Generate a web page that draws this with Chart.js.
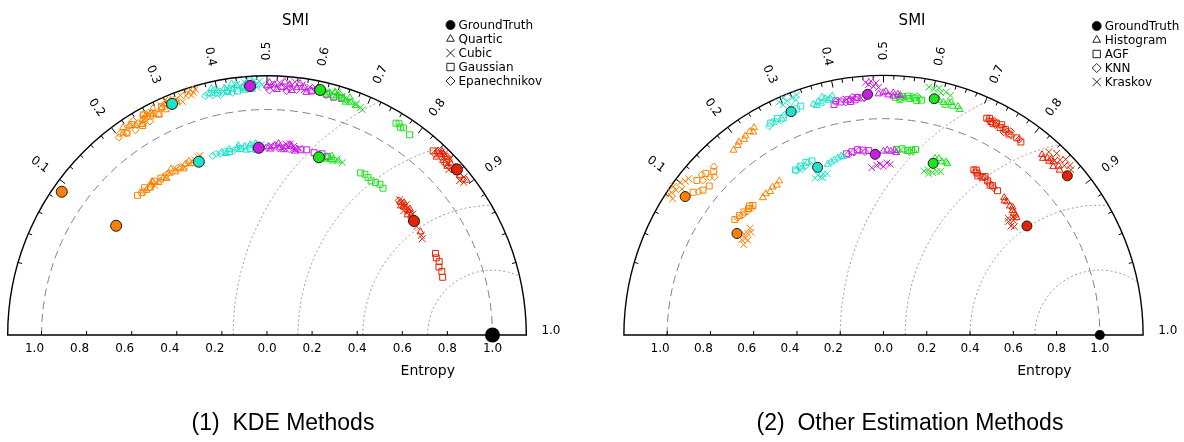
<!DOCTYPE html>
<html>
<head>
<meta charset="utf-8">
<script src="https://cdn.jsdelivr.net/npm/chart.js@4.4.0/dist/chart.umd.min.js"></script>
<style>
  body { margin: 0; background: #fff; width: 1184px; height: 442px; overflow: hidden; position: relative; }
  canvas { position: absolute; top: 0; }
  #kde { left: 0; }
  #other { left: 592px; }
  .cap { position: absolute; top: 409px; width: 440px; text-align: center; font: 23px "Liberation Sans", Arial, sans-serif; color: #000; white-space: pre; }
</style>
</head>
<body>
<canvas id="kde" width="592" height="442"></canvas>
<canvas id="other" width="592" height="442"></canvas>
<div class="cap" style="left:63px">(1)  KDE Methods</div>
<div class="cap" style="left:690px">(2)  Other Estimation Methods</div>
<script>
// each point: [entropy ratio (radius), SMI, group]
const groupColors = ['#ff8000', '#1ee3c9', '#c81ee3', '#1ee31e', '#e62200'];
const referencePoint = [[1.0, 1.0]];
const radialTicks = [-1.0, -0.8, -0.6, -0.4, -0.2, 0.0, 0.2, 0.4, 0.6, 0.8, 1.0];
const smiTicks = [0.1, 0.2, 0.3, 0.4, 0.5, 0.6, 0.7, 0.8, 0.9, 1.0];

const kdeGroundTruth = [
  [1.11,.09,0],[.826,.095,0],[1.108,.31,1],[.826,.317,1],[1.107,.466,2],
  [.831,.478,2],[1.112,.606,3],[.821,.64,3],[1.117,.877,4],[.825,.895,4]
];
const kdeQuartic = [
  [1.10,.21,0],[1.11,.225,0],[1.095,.235,0],[1.105,.25,0],[1.115,.26,0],[1.10,.27,0],[1.09,.28,0],[1.11,.29,0],[1.12,.30,0],[1.10,.31,0],[1.11,.32,0],
  [1.12,.215,0],[1.085,.245,0],[1.125,.275,0],[1.095,.295,0],[1.125,.31,0],
  [.835,.18,0],[.84,.195,0],[.83,.21,0],[.835,.225,0],[.84,.24,0],[.83,.255,0],[.835,.27,0],[.84,.285,0],[.83,.30,0],
  [.85,.20,0],[.825,.23,0],[.85,.25,0],[.825,.275,0],[.845,.295,0],
  [1.10,.385,1],[1.105,.40,1],[1.11,.415,1],[1.10,.43,1],[1.115,.44,1],[1.105,.45,1],[1.12,.46,1],[1.11,.47,1],[1.10,.465,1],
  [1.12,.39,1],[1.09,.42,1],[1.125,.43,1],[1.09,.455,1],[1.125,.47,1],
  [.835,.38,1],[.84,.40,1],[.835,.42,1],[.84,.44,1],[.845,.455,1],[.835,.47,1],[.84,.48,1],
  [.825,.39,1],[.85,.425,1],[.825,.445,1],[.85,.47,1],
  [1.105,.50,2],[1.11,.515,2],[1.10,.53,2],[1.115,.545,2],[1.105,.56,2],[1.11,.575,2],[1.10,.59,2],
  [1.12,.505,2],[1.09,.52,2],[1.125,.535,2],[1.09,.55,2],[1.125,.565,2],[1.09,.58,2],
  [.835,.505,2],[.84,.52,2],[.835,.535,2],[.84,.55,2],[.845,.565,2],[.835,.58,2],
  [.825,.51,2],[.85,.53,2],[.825,.545,2],[.85,.56,2],[.825,.575,2],
  [1.11,.625,3],[1.105,.64,3],[1.10,.655,3],[1.095,.67,3],[1.09,.68,3],[1.12,.635,3],[1.09,.66,3],[1.115,.665,3],
  [.83,.645,3],[.835,.66,3],[.83,.675,3],[.835,.69,3],[.82,.655,3],[.845,.67,3],
  [1.11,.84,4],[1.12,.85,4],[1.10,.855,4],[1.115,.865,4],[1.105,.875,4],[1.11,.885,4],
  [1.125,.845,4],[1.09,.845,4],[1.125,.875,4],[1.095,.865,4],[1.12,.895,4],
  [.835,.855,4],[.83,.865,4],[.835,.875,4],[.83,.885,4],[.825,.895,4],[.82,.915,4],
  [.845,.86,4],[.825,.86,4],[.845,.875,4],[.82,.88,4]
];
const kdeCubic = [
  [1.10,.25,0],[1.11,.27,0],[1.12,.29,0],[1.11,.31,0],[1.12,.32,0],[1.13,.33,0],[1.12,.34,0],[1.13,.345,0],[1.115,.35,0],[1.125,.355,0],[1.10,.33,0],
  [1.135,.30,0],[1.105,.32,0],[1.14,.35,0],[1.135,.36,0],
  [.83,.20,0],[.835,.23,0],[.84,.26,0],[.83,.28,0],[.835,.295,0],[.84,.31,0],[.845,.32,0],[.85,.325,0],
  [1.11,.42,1],[1.12,.44,1],[1.125,.455,1],[1.12,.47,1],[1.115,.48,1],[1.125,.485,1],[1.11,.49,1],[1.13,.475,1],
  [1.10,.45,1],[1.135,.46,1],[1.10,.48,1],
  [.84,.43,1],[.845,.45,1],[.85,.465,1],[.84,.475,1],[.845,.485,1],[.835,.49,1],
  [1.11,.505,2],[1.12,.525,2],[1.115,.55,2],[1.12,.57,2],[1.115,.585,2],[1.12,.595,2],
  [1.10,.54,2],[1.13,.555,2],[1.10,.575,2],
  [.84,.51,2],[.845,.53,2],[.85,.55,2],[.845,.57,2],[.84,.585,2],[.83,.54,2],[.855,.56,2],[.83,.575,2],
  [1.115,.63,3],[1.11,.65,3],[1.10,.665,3],[1.095,.68,3],[1.09,.69,3],[1.085,.695,3],[1.12,.64,3],[1.10,.68,3],
  [.83,.65,3],[.835,.67,3],[.84,.685,3],[.835,.70,3],
  [1.12,.845,4],[1.125,.86,4],[1.11,.87,4],[1.115,.88,4],[1.10,.89,4],[1.105,.895,4],[1.095,.89,4],
  [1.13,.85,4],[1.09,.87,4],[1.13,.875,4],[1.12,.89,4],
  [.84,.85,4],[.835,.86,4],[.83,.875,4],[.825,.89,4],[.82,.905,4],[.815,.92,4],[.81,.925,4],
  [.845,.865,4],[.82,.87,4],[.84,.885,4]
];
const kdeGaussian = [
  [1.09,.215,0],[1.11,.23,0],[1.08,.245,0],[1.12,.255,0],[1.10,.265,0],[1.09,.28,0],[1.115,.29,0],[1.11,.305,0],
  [.845,.16,0],[.84,.17,0],[.85,.18,0],[.835,.19,0],[.845,.205,0],[.84,.22,0],
  [1.095,.40,1],[1.10,.42,1],[1.09,.44,1],[1.10,.455,1],[1.095,.47,1],
  [.83,.40,1],[.835,.43,1],[.83,.455,1],[.825,.47,1],
  [1.10,.59,2],[1.105,.605,2],[1.10,.62,2],[1.095,.635,2],[1.10,.65,2],
  [.835,.59,2],[.84,.605,2],[.835,.625,2],[.84,.645,2],[.835,.66,2],
  [1.105,.62,3],[1.10,.635,3],[1.105,.65,3],[1.10,.76,3],[1.105,.765,3],[1.095,.77,3],[1.10,.775,3],[1.09,.79,3],
  [.83,.75,3],[.835,.76,3],[.83,.77,3],[.825,.78,3],[.83,.79,3],[.835,.80,3],[.83,.81,3],
  [1.10,.835,4],[1.11,.845,4],[1.105,.86,4],
  [.83,.95,4],[.825,.955,4],[.83,.96,4],[.82,.965,4],[.825,.97,4],[.82,.975,4]
];
const kdeEpanechnikov = [
  [1.095,.20,0],[1.105,.205,0],[1.09,.215,0],[1.11,.225,0],[1.10,.24,0],[1.09,.25,0],[1.105,.26,0],[1.11,.27,0],
  [1.08,.23,0],[1.12,.235,0],[1.08,.26,0],[1.12,.255,0],
  [.84,.175,0],[.835,.19,0],[.845,.20,0],[.83,.215,0],[.84,.235,0],[.835,.25,0],[.84,.265,0],
  [1.095,.375,1],[1.10,.38,1],[1.09,.39,1],[1.10,.405,1],[1.095,.42,1],[1.105,.435,1],
  [1.085,.405,1],[1.11,.395,1],[1.085,.43,1],
  [.83,.355,1],[.835,.365,1],[.83,.375,1],[.835,.39,1],[.83,.41,1],
  [1.10,.50,2],[1.095,.515,2],[1.105,.53,2],[1.10,.545,2],[1.095,.56,2],
  [1.085,.505,2],[1.115,.52,2],[1.085,.54,2],
  [.83,.50,2],[.835,.515,2],[.83,.53,2],[.835,.545,2],[.83,.56,2],
  [1.11,.615,3],[1.10,.63,3],[1.105,.645,3],[1.10,.66,3],[1.095,.62,3],[1.115,.645,3],
  [.825,.645,3],[.83,.655,3],[.825,.67,3],[.83,.68,3],
  [1.115,.84,4],[1.105,.85,4],[1.12,.86,4],[1.10,.87,4],[1.11,.875,4],
  [1.095,.84,4],[1.125,.855,4],[1.095,.86,4],
  [.835,.85,4],[.84,.86,4],[.83,.87,4],[.835,.88,4]
];

const otherGroundTruth = [
  [1.118,.09,0],[.824,.089,0],[1.117,.309,1],[.833,.317,1],[1.115,.467,2],
  [.836,.477,2],[1.117,.605,3],[.826,.639,3],[1.124,.878,4],[.833,.898,4]
];
const otherHistogram = [
  [1.10,.185,0],[1.105,.195,0],[1.115,.20,0],[1.11,.21,0],[1.12,.215,0],[1.125,.225,0],[1.115,.23,0],[1.13,.235,0],
  [.845,.17,0],[.85,.18,0],[.845,.19,0],[.855,.20,0],[.85,.21,0],[.86,.22,0],
  [1.115,.355,1],[1.12,.365,1],[1.11,.37,1],[1.125,.38,1],[1.12,.39,1],[1.13,.395,1],[1.115,.385,1],[1.105,.36,1],[1.135,.375,1],
  [.83,.345,1],[.835,.355,1],[.84,.365,1],[.845,.375,1],[.85,.385,1],[.845,.39,1],
  [1.115,.49,2],[1.12,.50,2],[1.11,.51,2],[1.12,.52,2],[1.115,.53,2],[1.11,.535,2],[1.125,.505,2],[1.105,.52,2],
  [.85,.50,2],[.855,.51,2],[.85,.52,2],[.855,.53,2],[.845,.535,2],
  [1.115,.615,3],[1.11,.625,3],[1.115,.635,3],[1.105,.645,3],[1.11,.655,3],[1.10,.66,3],[1.12,.64,3],[1.10,.63,3],
  [.85,.64,3],[.855,.65,3],[.845,.66,3],[.85,.67,3],[.845,.675,3],
  [1.11,.83,4],[1.115,.84,4],[1.12,.85,4],[1.11,.845,4],[1.125,.86,4],[1.115,.865,4],[1.10,.835,4],[1.125,.845,4],[1.105,.855,4],
  [.845,.83,4],[.84,.84,4],[.835,.85,4],[.83,.86,4],[.825,.87,4],[.82,.875,4],[.835,.835,4],[.84,.855,4],[.825,.865,4]
];
const otherAGF = [
  [1.10,.10,0],[1.12,.115,0],[1.07,.11,0],[1.11,.13,0],[1.09,.14,0],[1.06,.12,0],
  [.87,.105,0],[.865,.115,0],[.86,.125,0],[.855,.135,0],[.85,.145,0],[.86,.14,0],
  [1.11,.265,1],[1.115,.28,1],[1.105,.29,1],[1.12,.305,1],[1.12,.32,1],[1.125,.33,1],
  [.865,.265,1],[.87,.28,1],[.875,.295,1],[.87,.31,1],
  [1.09,.395,2],[1.095,.41,2],[1.10,.425,2],[1.095,.44,2],[1.10,.455,2],[1.105,.40,2],[1.09,.43,2],[1.105,.445,2],
  [.855,.40,2],[.86,.415,2],[.865,.43,2],[.86,.445,2],[.855,.46,2],
  [1.10,.525,3],[1.105,.54,3],[1.10,.555,3],[1.095,.57,3],[1.10,.58,3],[1.09,.535,3],[1.11,.55,3],[1.105,.565,3],
  [.86,.535,3],[.865,.55,3],[.86,.565,3],[.865,.575,3],[.87,.585,3],
  [1.11,.715,4],[1.105,.725,4],[1.11,.735,4],[1.10,.745,4],[1.105,.755,4],[1.10,.78,4],[1.095,.79,4],
  [1.115,.72,4],[1.10,.73,4],[1.115,.745,4],[1.095,.765,4],
  [.87,.74,4],[.865,.75,4],[.86,.765,4],[.86,.78,4],[.855,.795,4],[.85,.81,4],
  [.875,.745,4],[.855,.755,4],[.87,.77,4],[.85,.79,4]
];
const otherKNN = [
  [1.08,.105,0],[1.10,.12,0],[1.12,.125,0],[1.085,.13,0],[1.07,.135,0],[1.105,.145,0],
  [.865,.11,0],[.855,.12,0],[.85,.13,0],[.845,.14,0],
  [1.10,.26,1],[1.11,.27,1],[1.10,.285,1],[1.115,.295,1],[1.105,.275,1],
  [.86,.265,1],[.865,.275,1],[.86,.29,1],[.87,.30,1],[.855,.28,1],
  [1.10,.40,2],[1.105,.415,2],[1.10,.43,2],[1.105,.445,2],[1.10,.46,2],[1.09,.42,2],[1.11,.435,2],
  [.85,.405,2],[.855,.42,2],[.86,.435,2],[.85,.45,2],
  [1.105,.53,3],[1.10,.545,3],[1.11,.56,3],[1.105,.575,3],[1.095,.535,3],[1.115,.57,3],
  [.855,.54,3],[.86,.555,3],[.855,.57,3],[.86,.58,3],
  [1.105,.72,4],[1.10,.735,4],[1.105,.75,4],[1.10,.76,4],[1.095,.77,4],[1.10,.785,4],[1.115,.73,4],[1.09,.755,4],[1.11,.765,4],
  [.865,.745,4],[.86,.76,4],[.865,.77,4],[.855,.785,4],[.85,.80,4]
];
const otherKraskov = [
  [1.16,.08,0],[1.18,.085,0],[1.17,.09,0],[1.19,.092,0],[1.15,.095,0],[1.175,.10,0],[1.16,.105,0],[1.155,.11,0],[1.185,.082,0],
  [.79,.085,0],[.78,.09,0],[.77,.08,0],[.785,.10,0],[.775,.105,0],[.79,.11,0],[.765,.09,0],[.795,.095,0],
  [1.18,.295,1],[1.16,.30,1],[1.17,.31,1],[1.19,.305,1],[1.14,.31,1],[1.175,.32,1],[1.16,.325,1],[1.18,.33,1],
  [.79,.30,1],[.80,.31,1],[.785,.315,1],[.795,.325,1],[.78,.32,1],[.79,.335,1],
  [1.17,.465,2],[1.16,.47,2],[1.15,.48,2],[1.165,.485,2],[1.145,.49,2],[1.175,.475,2],
  [.775,.465,2],[.785,.48,2],[.79,.49,2],[.78,.50,2],[.795,.51,2],[.79,.52,2],
  [1.165,.59,3],[1.16,.60,3],[1.17,.61,3],[1.15,.615,3],[1.16,.625,3],[1.15,.635,3],
  [.78,.62,3],[.79,.63,3],[.785,.645,3],[.795,.655,3],[.80,.665,3],[.775,.635,3],
  [1.14,.835,4],[1.16,.845,4],[1.15,.855,4],[1.17,.86,4],[1.145,.865,4],[1.165,.87,4],[1.155,.875,4],[1.13,.85,4],
  [.79,.865,4],[.78,.87,4],[.80,.875,4],[.775,.88,4],[.785,.885,4],[.81,.87,4]
];

// polar (radius, SMI) -> plot coords; the angle is acos(2*SMI - 1)
function toXY(p) {
  const r = p[0], s = p[1];
  return { x: r * (2 * s - 1), y: 2 * r * Math.sqrt(s * (1 - s)) };
}

const taylorFrame = {
  id: 'taylorFrame',
  beforeDatasetsDraw(chart) {
    const o = chart.options.plugins.taylorFrame;
    const ctx = chart.ctx, xs = chart.scales.x, ys = chart.scales.y;
    const cx = xs.getPixelForValue(0), cy = ys.getPixelForValue(0);
    const ux = xs.getPixelForValue(1) - cx, uy = cy - ys.getPixelForValue(1);
    const R = o.rmax;
    ctx.save();

    // reference std circle
    ctx.strokeStyle = '#808080';
    ctx.lineWidth = 1;
    ctx.setLineDash([8, 5]);
    ctx.beginPath();
    ctx.ellipse(cx, cy, ux, uy, 0, Math.PI, 2 * Math.PI);
    ctx.stroke();

    // contours around the reference point, kept inside the frame
    ctx.save();
    ctx.beginPath();
    ctx.ellipse(cx, cy, R * ux, R * uy, 0, Math.PI, 2 * Math.PI);
    ctx.closePath();
    ctx.clip();
    ctx.setLineDash([2, 2.5]);
    ctx.strokeStyle = '#999';
    for (let k = 1; k <= 4; k++) {
      const rr = R * k / 4;
      ctx.beginPath();
      ctx.ellipse(cx + ux, cy, rr * ux, rr * uy, 0, Math.PI, 2 * Math.PI);
      ctx.stroke();
    }
    ctx.restore();

    // frame
    ctx.setLineDash([]);
    ctx.strokeStyle = '#000';
    ctx.lineWidth = 1.4;
    ctx.beginPath();
    ctx.ellipse(cx, cy, R * ux, R * uy, 0, Math.PI, 2 * Math.PI);
    ctx.closePath();
    ctx.stroke();

    // SMI ticks on the arc
    ctx.lineWidth = 1;
    for (let i = 1; i < 50; i++) {
      const th = Math.acos(2 * i / 50 - 1);
      const len = i % 5 === 0 ? 7 : 4;
      const c = Math.cos(th), s = Math.sin(th);
      const ox = cx + R * ux * c, oy = cy - R * uy * s;
      ctx.beginPath();
      ctx.moveTo(ox, oy);
      ctx.lineTo(ox - len * c, oy + len * s);
      ctx.stroke();
    }

    ctx.fillStyle = '#000';
    ctx.textAlign = 'center';
    ctx.textBaseline = 'middle';
    ctx.font = '12px "DejaVu Sans"';
    const LR = R * 1.095;
    smiTicks.forEach(v => {
      const th = Math.acos(2 * v - 1);
      ctx.save();
      ctx.translate(cx + LR * ux * Math.cos(th), cy - LR * uy * Math.sin(th) - (v === 1 ? 4 : 0));
      ctx.rotate(th <= Math.PI / 2 + 1e-6 ? -th : Math.PI - th);
      ctx.fillText(v.toFixed(1), 0, 0);
      ctx.restore();
    });

    // radial axis
    radialTicks.forEach(v => {
      const px = xs.getPixelForValue(v);
      ctx.beginPath();
      ctx.moveTo(px, cy);
      ctx.lineTo(px, cy - 4);
      ctx.stroke();
      ctx.fillText(Math.abs(v).toFixed(1), px + (v < 0 ? -7 : 0), cy + 14);
    });

    ctx.font = '14px "DejaVu Sans"';
    ctx.fillText('Entropy', xs.getPixelForValue(0.62 * R), 371);
    ctx.font = '15px "DejaVu Sans"';
    ctx.fillText('SMI', xs.getPixelForValue(0.11 * R), 21);
    ctx.restore();
  },
  afterDatasetsDraw(chart) {
    const o = chart.options.plugins.taylorFrame;
    const ctx = chart.ctx;
    ctx.save();
    ctx.font = '12px "DejaVu Sans"';
    ctx.textAlign = 'left';
    ctx.textBaseline = 'middle';
    let y = o.legendY;
    chart.data.datasets.filter(d => d.inLegend).forEach(d => {
      ctx.fillStyle = d.legendFill;
      ctx.strokeStyle = '#222';
      Chart.helpers.drawPoint(ctx, { pointStyle: d.pointStyle, radius: d.legendRadius, rotation: 0, borderWidth: 1 }, o.legendX, y);
      ctx.fillStyle = '#000';
      ctx.fillText(d.label, o.legendX + 8, y + 1);
      y += 14;
    });
    ctx.restore();
  }
};

function groundTruthSet(pts, radius) {
  return {
    label: 'GroundTruth', data: pts.map(toXY), pointStyle: 'circle', pointRadius: radius,
    pointBackgroundColor: pts.map(p => groupColors[p[2]]), pointBorderColor: '#1a1a1a', pointBorderWidth: 1,
    inLegend: true, legendFill: '#000', legendRadius: 4.5, clip: false
  };
}
function referenceSet(radius) {
  return {
    label: 'Reference', data: referencePoint.map(toXY), pointStyle: 'circle', pointRadius: radius,
    pointBackgroundColor: '#000', pointBorderColor: '#000', pointBorderWidth: 0, clip: false
  };
}
function methodSet(label, pts, style, radius) {
  return {
    label, data: pts.map(toXY), pointStyle: style, pointRadius: radius,
    pointBackgroundColor: 'rgba(0,0,0,0)', pointBorderColor: pts.map(p => groupColors[p[2]]), pointBorderWidth: 1,
    inLegend: true, legendFill: 'rgba(0,0,0,0)', legendRadius: style === 'rect' ? 5.2 : (style === 'crossRot' ? 6 : 4.5), clip: false
  };
}

function buildTaylor(id, rmax, padding, legendX, legendY, datasets) {
  return new Chart(document.getElementById(id), {
    type: 'scatter',
    data: { datasets },
    options: {
      responsive: false,
      animation: false,
      events: [],
      layout: { padding },
      scales: {
        x: { type: 'linear', display: false, min: -rmax, max: rmax },
        y: { type: 'linear', display: false, min: 0, max: rmax }
      },
      plugins: {
        legend: { display: false },
        tooltip: { enabled: false },
        taylorFrame: { rmax, legendX, legendY }
      }
    },
    plugins: [taylorFrame]
  });
}

buildTaylor('kde', 1.15, { left: 7.7, right: 65.7, top: 75.7, bottom: 107 }, 450.5, 25, [
  groundTruthSet(kdeGroundTruth, 5.5),
  referenceSet(7.5),
  methodSet('Quartic', kdeQuartic, 'triangle', 4),
  methodSet('Cubic', kdeCubic, 'crossRot', 4.8),
  methodSet('Gaussian', kdeGaussian, 'rect', 4.2),
  methodSet('Epanechnikov', kdeEpanechnikov, 'rectRot', 3.6)
]);

buildTaylor('other', 1.2, { left: 31.9, right: 40.9, top: 75.4, bottom: 107 }, 504.7, 26, [
  groundTruthSet(otherGroundTruth, 5),
  referenceSet(5),
  methodSet('Histogram', otherHistogram, 'triangle', 4),
  methodSet('AGF', otherAGF, 'rect', 4.2),
  methodSet('KNN', otherKNN, 'rectRot', 3.6),
  methodSet('Kraskov', otherKraskov, 'crossRot', 4.8)
]);
</script>
</body>
</html>
